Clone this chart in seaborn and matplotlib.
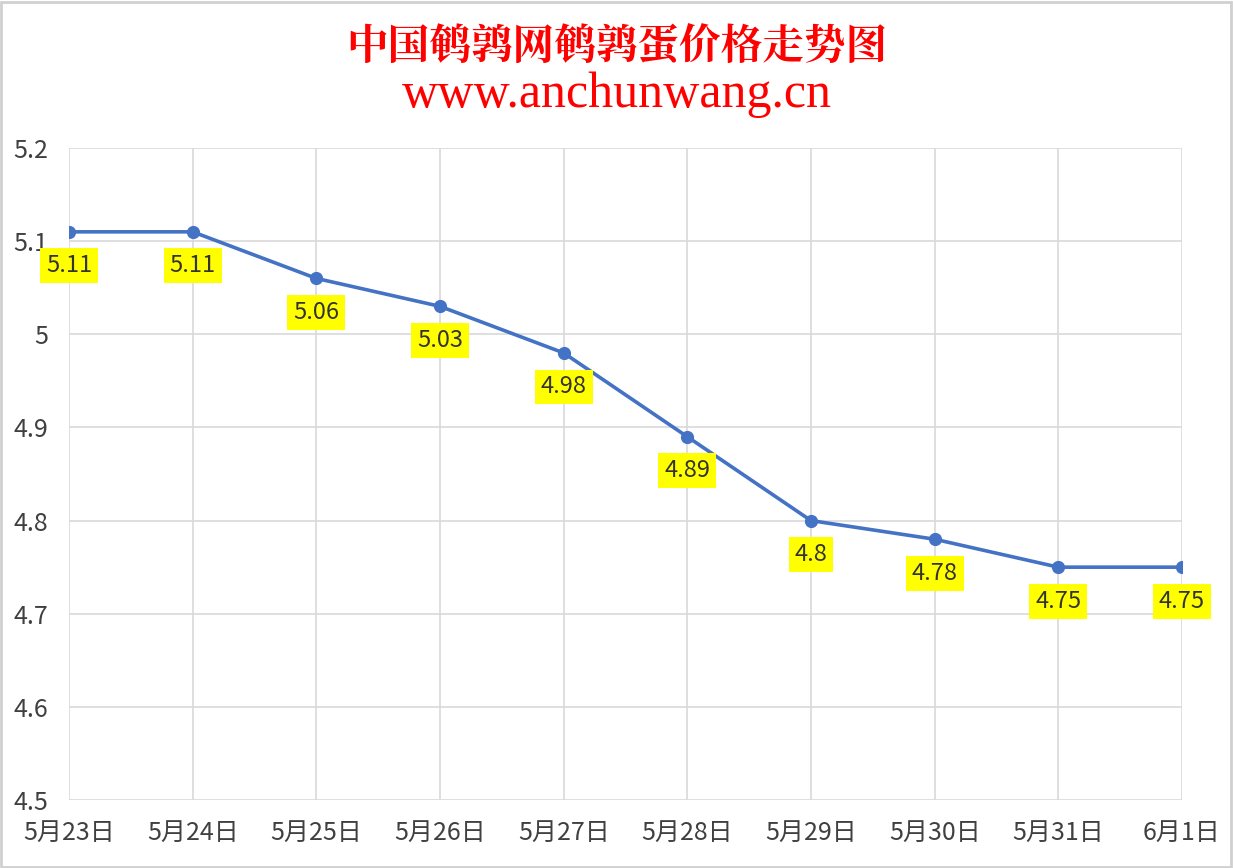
import matplotlib
matplotlib.use('Agg')
import matplotlib.pyplot as plt
import pandas as pd
import seaborn as sns
from matplotlib.patches import Rectangle

# 数据
dates = ['5月23日', '5月24日', '5月25日', '5月26日', '5月27日',
         '5月28日', '5月29日', '5月30日', '5月31日', '6月1日']
prices = [5.11, 5.11, 5.06, 5.03, 4.98, 4.89, 4.8, 4.78, 4.75, 4.75]
price_labels = ['5.11', '5.11', '5.06', '5.03', '4.98', '4.89', '4.8', '4.78', '4.75', '4.75']
y_ticks = [4.5, 4.6, 4.7, 4.8, 4.9, 5.0, 5.1, 5.2]
y_tick_labels = ['4.5', '4.6', '4.7', '4.8', '4.9', '5', '5.1', '5.2']

sns.set_theme(style='white')
plt.rcParams['font.family'] = ['Noto Sans CJK SC', 'DejaVu Sans']

df = pd.DataFrame({'date': dates, 'price': prices})
df['pos'] = range(len(df))

fig = plt.figure(figsize=(12.33, 8.68), dpi=100)
ax = fig.add_axes([0.056, 0.0783, 0.9026, 0.7512])

sns.lineplot(data=df, x='pos', y='price', ax=ax, color='#4472C4',
             linewidth=2.6, marker='o', markersize=9.5, markeredgewidth=0)

# 数据标签
for x, y, txt in zip(df['pos'], df['price'], price_labels):
    ax.annotate(txt, (x, y), xytext=(0, -24.5), textcoords='offset points',
                ha='center', va='center', fontsize=17, color='#333333',
                bbox=dict(boxstyle='square,pad=0.25', fc='#FFFF00', ec='none'))

ax.set_xlim(0, len(dates) - 1)
ax.set_ylim(4.5, 5.2)
ax.set_xticks(df['pos'])
ax.set_xticklabels(dates, fontsize=18, color='#404040')
ax.set_yticks(y_ticks)
ax.set_yticklabels(y_tick_labels, fontsize=18, color='#404040')
ax.tick_params(axis='x', length=0, pad=14)
ax.tick_params(axis='y', length=0, pad=15)
ax.set_xlabel('')
ax.set_ylabel('')
ax.grid(True, color='#D9D9D9', linewidth=1.2)
for s in ax.spines.values():
    s.set_visible(False)

# 标题
fig.text(0.5, 0.945, '中国鹌鹑网鹌鹑蛋价格走势图', ha='center', va='center',
         fontsize=30, color='#FF0000', fontweight='bold',
         family=['Noto Serif CJK SC', 'Noto Sans CJK SC'])
fig.text(0.5, 0.891, 'www.anchunwang.cn', ha='center', va='center',
         fontsize=36, color='#FF0000', family='Liberation Serif')

# 外框
fig.patches.append(Rectangle((0.001, 0.001), 0.997, 0.997, transform=fig.transFigure,
                             fill=False, edgecolor='#D0D0D0', linewidth=2))

fig.savefig('out.png', dpi=100)
